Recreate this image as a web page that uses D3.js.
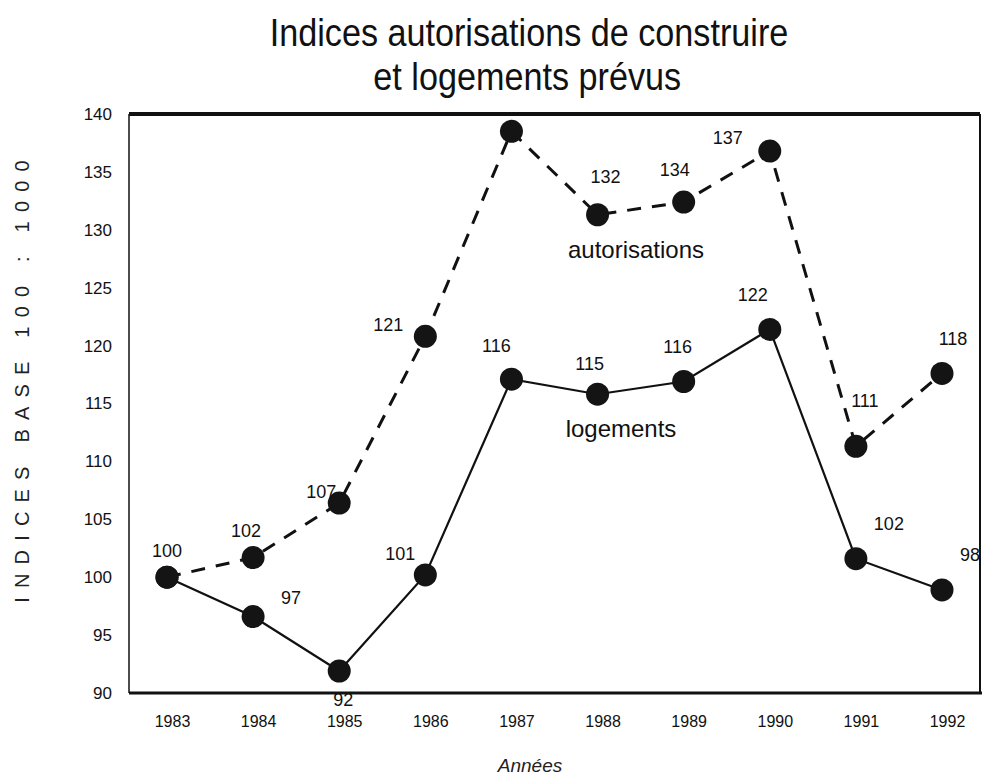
<!DOCTYPE html>
<html lang="fr">
<head>
<meta charset="utf-8">
<script src="https://cdn.jsdelivr.net/npm/d3@7"></script>
<style>
    html, body { margin: 0; padding: 0; background: #fff; }
    svg { display: block; font-family: "Liberation Sans", Arial, sans-serif; }
</style>
</head>
<body>
<div id="chart"></div>
<script>
// Data
const years = [1983, 1984, 1985, 1986, 1987, 1988, 1989, 1990, 1991, 1992];
const autorisations = [100, 101.7, 106.4, 120.8, 138.5, 131.3, 132.4, 136.8, 111.3, 117.6];
const logements = [100, 96.6, 91.9, 100.2, 117.1, 115.8, 116.9, 121.4, 101.6, 98.9];
const autorisationsLabels = ["100", "102", "107", "121", "", "132", "134", "137", "111", "118"];
const logementsLabels = ["", "97", "92", "101", "116", "115", "116", "122", "102", "98"];
const yTicks = [90, 95, 100, 105, 110, 115, 120, 125, 130, 135, 140];

// Where each value label sits relative to its point (layout only)
const autorisationsLabelOffset = [[0, -27], [-7, -27], [-18, -11], [-37, -12], [0, 0], [8, -38], [-9, -32], [-42, -13], [9, -46], [11, -35]];
const logementsLabelOffset = [[0, 0], [38, -19], [4, 29], [-25, -21], [-15, -33], [-8, -31], [-6, -35], [-17, -35], [33, -35], [28, -35]];

const width = 982;
const height = 781;
const plot = { left: 129, right: 980, top: 114, bottom: 693 };

const svg = d3.select("#chart").append("svg")
    .attr("width", width)
    .attr("height", height);

const x = d3.scalePoint()
    .domain(years)
    .range([167, 942]);

const y = d3.scaleLinear()
    .domain([90, 140])
    .range([plot.bottom, plot.top]);

// Title, a little condensed like the printed one
const title = svg.append("g")
    .attr("transform", "translate(529, 0) scale(0.9, 1)")
    .attr("font-size", "38px")
    .attr("fill", "#111")
    .attr("text-anchor", "middle");
title.append("text").attr("x", 0).attr("y", 46).text("Indices autorisations de construire");
title.append("text").attr("x", -2).attr("y", 90).text("et logements prévus");

// Y axis labels (no tick marks in the original)
const yAxis = svg.append("g")
    .attr("transform", `translate(${plot.left}, 0)`)
    .call(d3.axisLeft(y).tickValues(yTicks).tickSize(0).tickPadding(17));
yAxis.select(".domain").remove();
yAxis.selectAll("text")
    .attr("font-family", "Liberation Sans, Arial, sans-serif")
    .attr("font-size", "17px")
    .attr("fill", "#111");

// X axis labels
const xAxis = svg.append("g")
    .attr("transform", `translate(5, ${plot.bottom})`)
    .call(d3.axisBottom(x).tickSize(0).tickPadding(23).tickFormat(d3.format("d")));
xAxis.select(".domain").remove();
xAxis.selectAll("text")
    .attr("font-family", "Liberation Sans, Arial, sans-serif")
    .attr("font-size", "16px")
    .attr("fill", "#111");

// Axis titles
svg.append("text")
    .attr("transform", "translate(29, 377) rotate(-90)")
    .attr("text-anchor", "middle")
    .attr("font-size", "20px")
    .attr("letter-spacing", "9.2px")
    .attr("fill", "#222")
    .text("INDICES BASE 100 : 1000");

svg.append("text")
    .attr("x", 530)
    .attr("y", 772)
    .attr("text-anchor", "middle")
    .attr("font-size", "19px")
    .attr("font-style", "italic")
    .attr("fill", "#222")
    .text("Années");

// Lines
const line = d3.line()
    .x((d, i) => x(years[i]))
    .y(d => y(d));

svg.append("path")
    .datum(autorisations)
    .attr("d", line)
    .attr("fill", "none")
    .attr("stroke", "#111")
    .attr("stroke-width", 3)
    .attr("stroke-dasharray", "14 11");

svg.append("path")
    .datum(logements)
    .attr("d", line)
    .attr("fill", "none")
    .attr("stroke", "#111")
    .attr("stroke-width", 2.2);

// Dots
function drawDots(values) {
    svg.append("g")
        .selectAll("circle")
        .data(values)
        .enter()
        .append("circle")
        .attr("cx", (d, i) => x(years[i]))
        .attr("cy", d => y(d))
        .attr("r", 11.5)
        .attr("fill", "#141414");
}
drawDots(autorisations);
drawDots(logements);

// Value labels
function drawLabels(values, labels, offsets) {
    svg.append("g")
        .selectAll("text")
        .data(values)
        .enter()
        .append("text")
        .attr("x", (d, i) => x(years[i]) + offsets[i][0])
        .attr("y", (d, i) => y(d) + offsets[i][1])
        .attr("text-anchor", "middle")
        .attr("dy", "0.35em")
        .attr("font-size", "18px")
        .attr("fill", "#111")
        .text((d, i) => labels[i]);
}
drawLabels(autorisations, autorisationsLabels, autorisationsLabelOffset);
drawLabels(logements, logementsLabels, logementsLabelOffset);

// Series names inside the plot
svg.append("text")
    .attr("x", 636)
    .attr("y", 258)
    .attr("text-anchor", "middle")
    .attr("font-size", "24px")
    .attr("fill", "#111")
    .text("autorisations");

svg.append("text")
    .attr("x", 621)
    .attr("y", 437)
    .attr("text-anchor", "middle")
    .attr("font-size", "24px")
    .attr("fill", "#111")
    .text("logements");

// Frame drawn last: thin left side, heavy top, right and bottom lines
const frame = svg.append("g").attr("stroke", "#111").attr("fill", "none");
frame.append("line")
    .attr("x1", plot.left).attr("x2", plot.left)
    .attr("y1", plot.top).attr("y2", plot.bottom)
    .attr("stroke-width", 1.5);
frame.append("line")
    .attr("x1", plot.left).attr("x2", plot.right)
    .attr("y1", plot.top).attr("y2", plot.top)
    .attr("stroke-width", 4);
frame.append("line")
    .attr("x1", plot.right).attr("x2", plot.right)
    .attr("y1", plot.top).attr("y2", plot.bottom)
    .attr("stroke-width", 2);
frame.append("line")
    .attr("x1", plot.left).attr("x2", plot.right + 2)
    .attr("y1", plot.bottom).attr("y2", plot.bottom)
    .attr("stroke-width", 3);
</script>
</body>
</html>
